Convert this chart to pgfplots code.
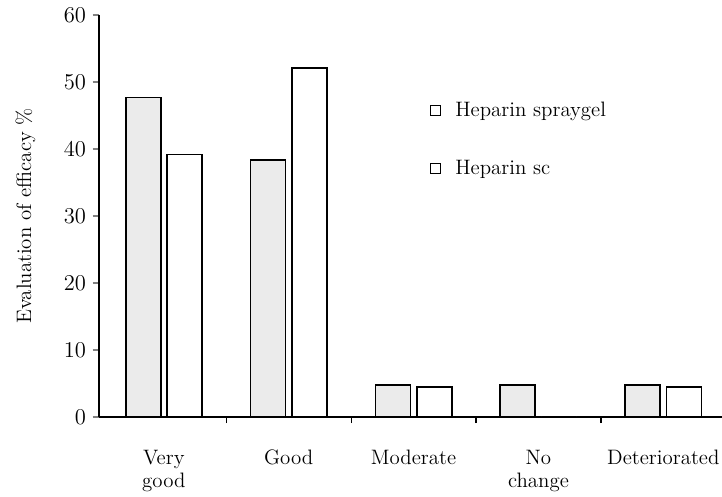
\documentclass[border=0pt,12pt]{standalone}
\usepackage{pgfplots}
\pgfplotsset{compat=1.18}
\usetikzlibrary{calc}
\begin{document}
\begin{tikzpicture}
\begin{axis}[
  name=ax,
  scale only axis,
  width=397pt, height=256pt,
  xmin=-0.52, xmax=4.47,
  ymin=0, ymax=60,
  font=\fontsize{13.3}{15}\selectfont,
  axis lines=left,
  axis line style={-, line width=0.8pt},
  tick align=outside,
  ytick={0,10,...,60},
  xtick={0,1,2,3,4},
  xticklabels={Very\\good, Good, Moderate, No\\change, Deteriorated},
  xticklabel style={align=center, anchor=north, yshift=-13pt},
  xtick style={draw=none},
  extra x ticks={0.5,1.5,2.5,3.5},
  extra x tick labels={},
  extra x tick style={xtick style={draw=black, line width=0.8pt}},
  ytick style={line width=0.8pt},
  major tick length=4pt,
  ylabel={Evaluation of efficacy \%},
  ylabel style={yshift=10pt},
  ybar=4pt,
  bar width=22.3pt,
  legend style={draw=none, fill=none, at={(rel axis cs:0.523,0.80)}, anchor=north west,
    row sep=22pt, column sep=7pt},
  legend cell align=left,
  legend image code/.code={\draw[#1, line width=0.8pt, fill=none] (0pt,-3pt) rectangle (6.5pt,3.5pt);},
]
\addplot[draw=black, line width=1.1pt, fill=black!8] coordinates {(0,47.7) (1,38.4) (2,4.8) (3,4.8) (4,4.8)};
\addplot[draw=black, line width=1.1pt, fill=white] coordinates {(0,39.2) (1,52.1) (2,4.5) (3,0) (4,4.5)};
\legend{Heparin spraygel, Heparin sc}
\end{axis}
\pgfresetboundingbox
\path ($(ax.south west)+(-63pt,-51pt)$) rectangle ($(ax.north east)+(0pt,9.6pt)$);
\end{tikzpicture}
\end{document}
